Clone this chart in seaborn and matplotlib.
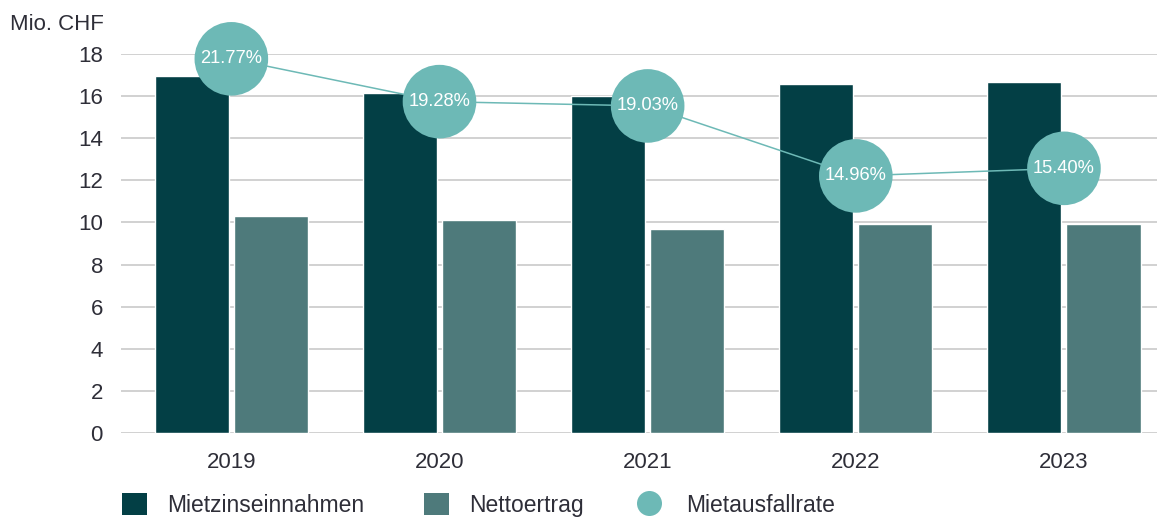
import matplotlib
matplotlib.use("Agg")
import matplotlib.pyplot as plt
import seaborn as sns
import pandas as pd
import numpy as np
from matplotlib.lines import Line2D
from matplotlib.patches import Patch

years = ["2019", "2020", "2021", "2022", "2023"]
mietzins = [16.95, 16.15, 16.0, 16.58, 16.68]
netto = [10.33, 10.14, 9.67, 9.92, 9.92]
ausfall = [21.77, 19.28, 19.03, 14.96, 15.40]
ausfall_labels = ["21.77%", "19.28%", "19.03%", "14.96%", "15.40%"]
series_names = ["Mietzinseinnahmen", "Nettoertrag", "Mietausfallrate"]

c_dark = "#033f45"
c_mid = "#4e7a7b"
c_light = "#6db9b6"
c_text = "#2e2e38"

sns.set_theme(style="white")
plt.rcParams['font.family'] = ['Liberation Sans', 'DejaVu Sans']

df = pd.DataFrame({
    "Jahr": years * 2,
    "Wert": mietzins + netto,
    "Serie": [series_names[0]] * len(years) + [series_names[1]] * len(years),
})

fig = plt.figure(figsize=(11.57, 5.18), dpi=100)
ax = fig.add_axes([0.1046, 0.164, 0.8954, 0.7317])

sns.barplot(data=df, x="Jahr", y="Wert", hue="Serie", palette=[c_dark, c_mid],
            width=0.76, gap=0.063, ax=ax, legend=False, saturation=1)

ax.set_ylim(0, 18)
ax.set_xlim(-0.53, 4.447)
ax.set_yticks(range(0, 19, 2))
ax.yaxis.grid(True, color="#c9c9c9", linewidth=1.2)
ax.set_axisbelow(True)
for s in ax.spines.values():
    s.set_visible(False)
ax.set_xlabel("")
ax.set_ylabel("")
ax.tick_params(axis="y", labelsize=16, colors=c_text, length=0, pad=13)
ax.tick_params(axis="x", labelsize=16, colors=c_text, length=0, pad=14)

fig.text(0.009, 0.953, "Mio. CHF", fontsize=16, color=c_text, ha="left", va="center")

ax2 = ax.twinx()
ax2.set_ylim(0, 22.05)
ax2.set_axis_off()
xpos = np.arange(len(years))
sns.lineplot(x=xpos, y=ausfall, ax=ax2, color=c_light, linewidth=1.1, zorder=3)
ax2.scatter(xpos, ausfall, s=53 ** 2, color=c_light, edgecolors="none", zorder=4, clip_on=False)
for xp, v, lab in zip(xpos, ausfall, ausfall_labels):
    ax2.text(xp, v, lab, color="white", fontsize=13.2, ha="center", va="center", zorder=5)
ax2.set_xlim(-0.53, 4.447)

handles = [
    Patch(facecolor=c_dark, edgecolor="none", label=series_names[0]),
    Patch(facecolor=c_mid, edgecolor="none", label=series_names[1]),
    Line2D([0], [0], marker="o", linestyle="none", markersize=18, markerfacecolor=c_light,
           markeredgecolor="none", label=series_names[2]),
]
legend_x = [122 / 1157, 424 / 1157, 636 / 1157]
for h, lx in zip(handles, legend_x):
    leg = fig.legend(handles=[h], loc="center left", bbox_to_anchor=(lx, 0.025),
                     frameon=False, fontsize=16.5, handlelength=1.1, handleheight=1.1,
                     handletextpad=0.85 if lx < 0.5 else 1.1, borderpad=0, borderaxespad=0,
                     labelcolor=c_text)

fig.savefig("out.png", dpi=100)
